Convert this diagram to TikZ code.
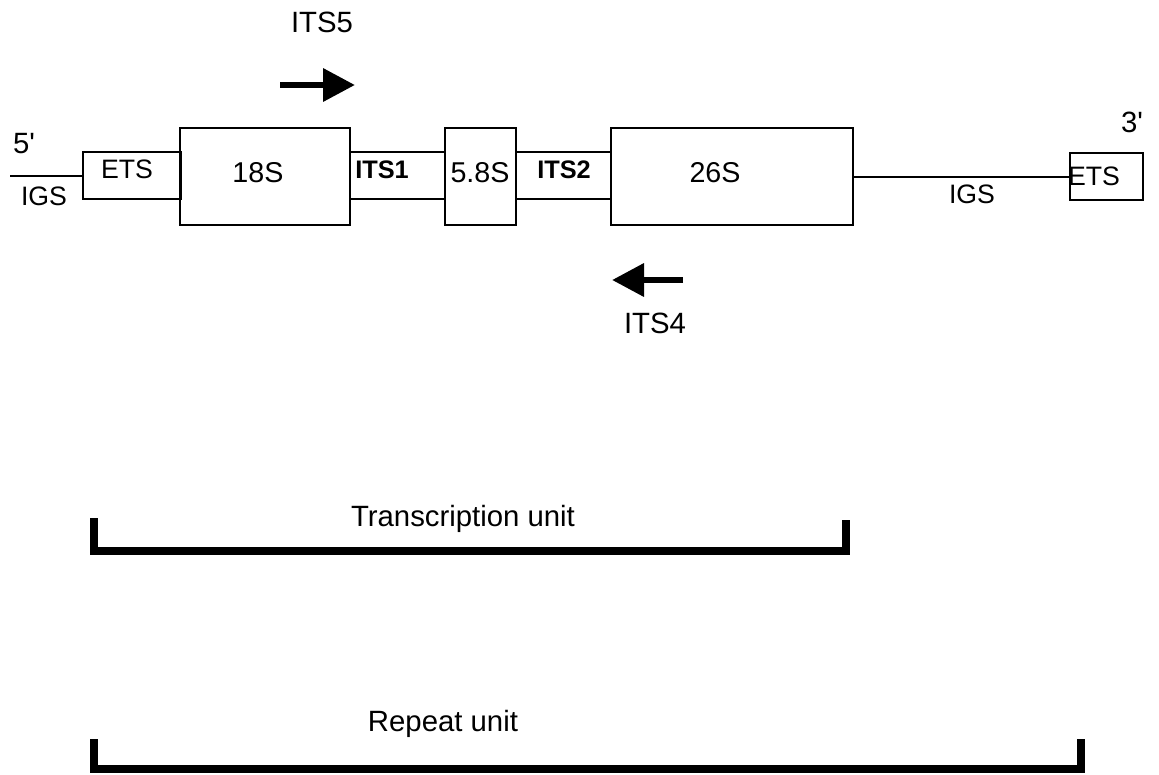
\documentclass[tikz,border=0pt]{standalone}
\usepackage{fontspec}
\setmainfont{Liberation Sans}
\usetikzlibrary{arrows.meta}
\begin{document}
\begin{tikzpicture}[x=0.75pt,y=-0.75pt,
  box/.style={draw,line width=1.5pt,inner sep=0pt,outer sep=0pt},
  lab/.style={anchor=base,inner sep=0pt,font=\fontsize{20}{24}\selectfont},
  biglab/.style={anchor=base,inner sep=0pt,font=\fontsize{21.5}{26}\selectfont},
  boldlab/.style={anchor=base,inner sep=0pt,font=\bfseries\fontsize{19}{23}\selectfont},
  txt/.style={anchor=base,inner sep=0pt,font=\fontsize{22}{26}\selectfont},
  strand/.style={line width=1.5pt},
  primer/.style={line width=5pt,-{Triangle[length=24pt,width=24pt]}},
  bracketline/.style={line width=6pt,line cap=butt,line join=miter}]
\useasboundingbox (0,0) rectangle (1159,774);
% boxes
\node[box,minimum width=73.5pt,minimum height=35.25pt] (etsL) at (132,175.5) {};
\node[box,minimum width=127.5pt,minimum height=72.75pt] (b18) at (265,176.5) {};
\node[box,minimum width=71.25pt,minimum height=35.25pt] (its1) at (397.5,175.5) {};
\node[box,minimum width=53.25pt,minimum height=72.75pt] (b58) at (480.5,176.5) {};
\node[box,minimum width=71.25pt,minimum height=35.25pt] (its2) at (563.5,175.5) {};
\node[box,minimum width=181.5pt,minimum height=72.75pt] (b26) at (732,176.5) {};
\node[box,minimum width=54.75pt,minimum height=35.25pt] (etsR) at (1106.5,176.5) {};
% strand
\coordinate (L) at (10,175.5);
\draw[strand] (L) -- (etsL.west);
\draw[strand] (b26.east) -- (etsR.west);
% box labels
\node[lab] (tetsL) at (127,178) {ETS};
\node[biglab] (t18) at (258,182) {18S};
\node[boldlab] (tits1) at (382,178) {ITS1};
\node[biglab] (t58) at (480,182) {5.8S};
\node[boldlab] (tits2) at (564,178) {ITS2};
\node[biglab] (t26) at (715,182) {26S};
\node[lab] (tetsR) at (1094,185) {ETS};
\node[lab] (igsL) at (44,205) {IGS};
\node[lab] (igsR) at (972,203) {IGS};
\node[txt] (p5) at (24,153) {5\textquotesingle};
\node[txt] (p3) at (1132,132) {3\textquotesingle};
% primers
\node[txt] (its5) at (322,33) {ITS5};
\coordinate (a5s) at (280,85);
\coordinate (a5e) at (355,85);
\draw[primer] (a5s) -- (a5e);
\coordinate (a4s) at (683,280);
\coordinate (a4e) at (612,280);
\draw[primer] (a4s) -- (a4e);
\node[txt] (its4) at (655,333) {ITS4};
% transcription unit
\node[txt] (tu) at (463,526) {Transcription unit};
\coordinate (tu1) at (94,518);
\coordinate (tu2) at (94,551);
\coordinate (tu3) at (846,551);
\coordinate (tu4) at (846,520);
\draw[bracketline] (tu1) -- (tu2) -- (tu3) -- (tu4);
% repeat unit
\node[txt] (ru) at (443,731) {Repeat unit};
\coordinate (ru1) at (94,739);
\coordinate (ru2) at (94,769);
\coordinate (ru3) at (1080.5,769);
\coordinate (ru4) at (1080.5,739);
\draw[bracketline] (ru1) -- (ru2) -- (ru3) -- (ru4);
\end{tikzpicture}
\end{document}
